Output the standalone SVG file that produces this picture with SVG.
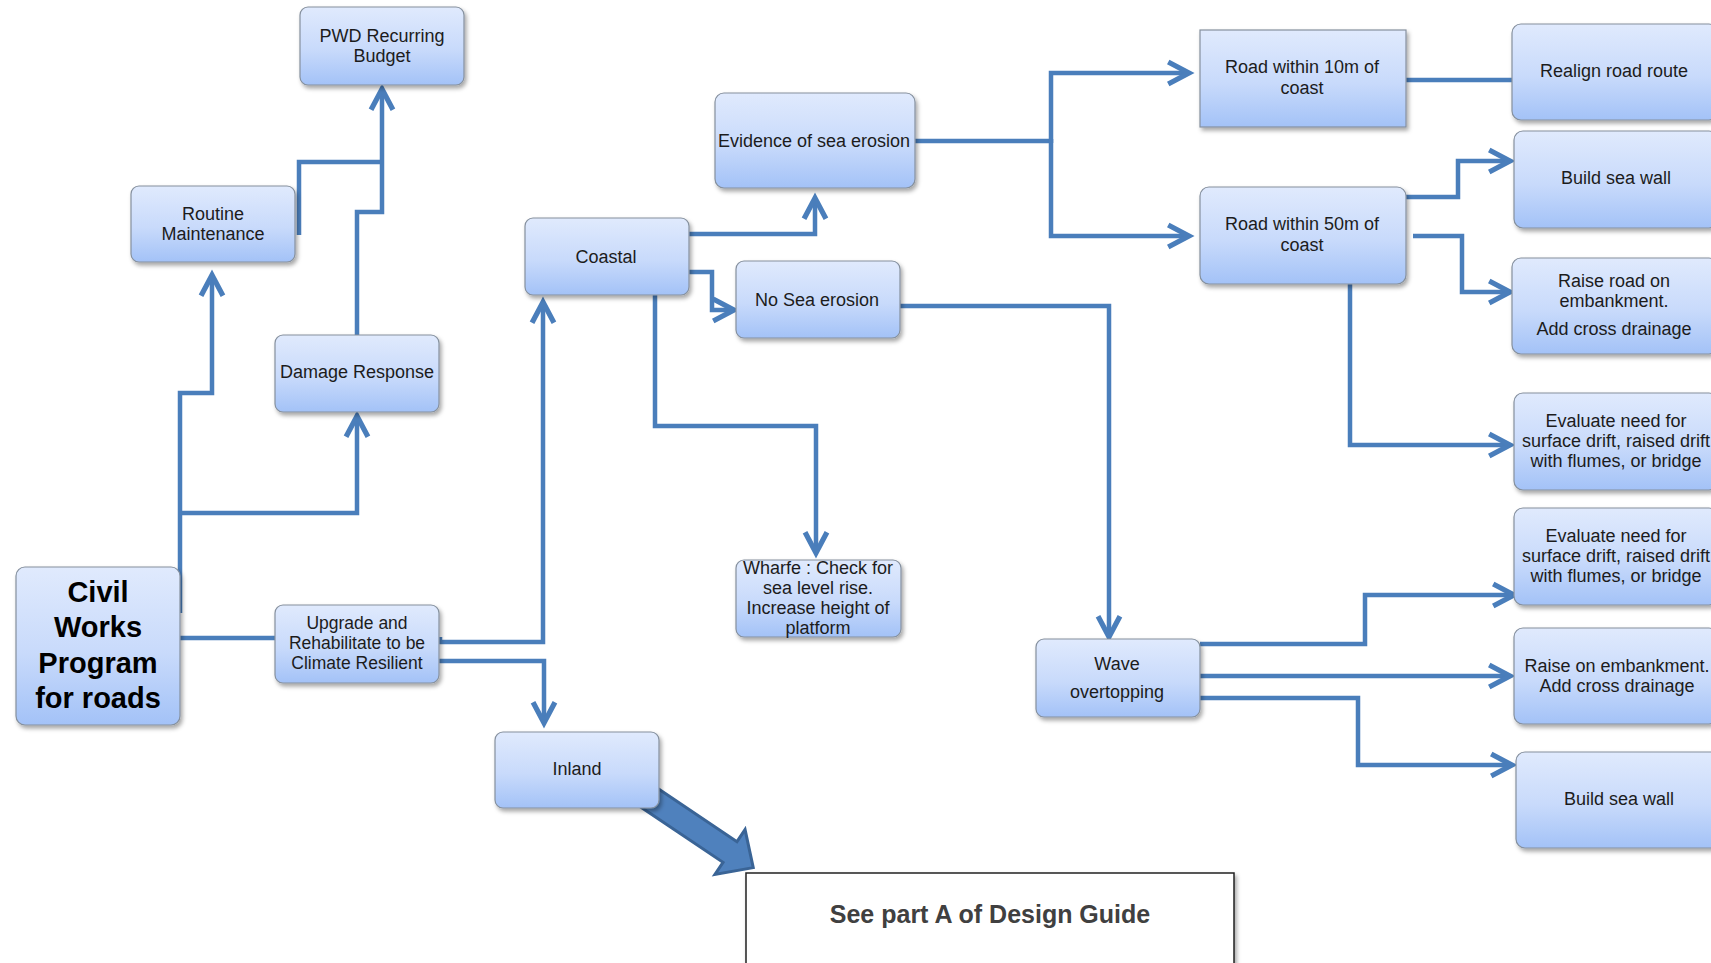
<svg xmlns="http://www.w3.org/2000/svg" width="1711" height="963" viewBox="0 0 1711 963">
  <defs>
    <linearGradient id="boxFill" x1="0" y1="0" x2="0" y2="1">
      <stop offset="0" stop-color="#e0eafd"/>
      <stop offset="0.55" stop-color="#c8dafb"/>
      <stop offset="1" stop-color="#a3c2f7"/>
    </linearGradient>
    <filter id="shadow" x="-10%" y="-10%" width="125%" height="130%">
      <feDropShadow dx="2" dy="3" stdDeviation="2" flood-color="#000" flood-opacity="0.35"/>
    </filter>
    <marker id="arrow" markerUnits="userSpaceOnUse" markerWidth="30" markerHeight="30" viewBox="-22 -13 26 26" refX="0" refY="0" orient="auto" overflow="visible">
      <path d="M-18,-9.5 L0,0 L-18,9.5" fill="none" stroke="#4a7ebb" stroke-width="4.5" stroke-linejoin="miter" stroke-linecap="butt"/>
    </marker>
  </defs>
  <style>
    .box { fill: url(#boxFill); stroke: #85909e; stroke-width: 1.2; filter: url(#shadow); }
    .lbl { font-family: "Liberation Sans", Arial, sans-serif; font-size: 18px; fill: #1c1c1c; text-anchor: middle; }
    .big { font-family: "Liberation Sans", Arial, sans-serif; font-size: 29px; font-weight: bold; fill: #000; text-anchor: middle; }
    .con { fill: none; stroke: #4a7ebb; stroke-width: 4.5; stroke-linejoin: miter; }
    .arr { marker-end: url(#arrow); }
  </style>

  <rect width="1711" height="963" fill="#ffffff"/>

  <!-- connectors (drawn beneath the boxes) -->
  <g id="connectors">
    <path class="con" d="M299,235 V162 H382"/>
    <path class="con arr" d="M357,335 V212 H382 V89"/>
    <path class="con arr" d="M180,613 V393 H212 V275"/>
    <path class="con arr" d="M180,513 H357 V416"/>
    <path class="con" d="M180,638 H276"/>
    <path class="con arr" d="M440,637 V642 H543 V302"/>
    <path class="con arr" d="M439,661 H544 V723"/>
    <path class="con arr" d="M689,234 H815 V198"/>
    <path class="con arr" d="M689,272 H712 V310 H734"/>
    <path class="con arr" d="M655,295 V426 H816 V553"/>
    <path class="con arr" d="M898,300 V306 H1109 V637"/>
    <path class="con" d="M915,141 H1051"/>
    <path class="con arr" d="M1051,143 V73 H1189"/>
    <path class="con arr" d="M1051,139 V236 H1189"/>
    <path class="con" d="M1406,80 H1513"/>
    <path class="con arr" d="M1406,197 H1458 V161 H1510"/>
    <path class="con arr" d="M1413,236 H1462 V292 H1510"/>
    <path class="con arr" d="M1350,284 V445 H1510"/>
    <path class="con arr" d="M1200,644 H1365 V595 H1514"/>
    <path class="con arr" d="M1200,676 H1510"/>
    <path class="con arr" d="M1200,698 H1358 V765 H1512"/>
    <!-- block arrow from Inland to the design guide reference -->
    <g transform="translate(730,852) rotate(33.9)">
      <path d="M-140,-12.5 H0 V-27 L28,0 L0,27 V12.5 H-140 Z" fill="#4f81bd" stroke="#3a6496" stroke-width="3" stroke-linejoin="miter"/>
    </g>
  </g>

  <g id="pwd-budget">
    <rect class="box" x="300" y="7" width="164" height="78" rx="8"/>
    <text class="lbl" x="382" y="42">PWD Recurring</text>
    <text class="lbl" x="382" y="62">Budget</text>
  </g>

  <g id="routine-maintenance">
    <rect class="box" x="131" y="186" width="164" height="76" rx="8"/>
    <text class="lbl" x="213" y="220">Routine</text>
    <text class="lbl" x="213" y="240">Maintenance</text>
  </g>

  <g id="damage-response">
    <rect class="box" x="275" y="335" width="164" height="77" rx="8"/>
    <text class="lbl" x="357" y="378">Damage Response</text>
  </g>

  <g id="civil-works">
    <rect class="box" x="16" y="567" width="164" height="158" rx="9"/>
    <text class="big" x="98" y="602">Civil</text>
    <text class="big" x="98" y="637">Works</text>
    <text class="big" x="98" y="673">Program</text>
    <text class="big" x="98" y="708">for roads</text>
  </g>

  <g id="upgrade">
    <rect class="box" x="275" y="605" width="164" height="78" rx="8"/>
    <text class="lbl" x="357" y="629" style="font-size:17.5px">Upgrade and</text>
    <text class="lbl" x="357" y="649" style="font-size:17.5px">Rehabilitate to be</text>
    <text class="lbl" x="357" y="669" style="font-size:17.5px">Climate Resilient</text>
  </g>

  <g id="inland">
    <rect class="box" x="495" y="732" width="164" height="76" rx="8"/>
    <text class="lbl" x="577" y="775">Inland</text>
  </g>

  <g id="coastal">
    <rect class="box" x="525" y="218" width="164" height="77" rx="8"/>
    <text class="lbl" x="606" y="263">Coastal</text>
  </g>

  <g id="evidence-erosion">
    <rect class="box" x="715" y="93" width="200" height="95" rx="9"/>
    <text class="lbl" x="814" y="147">Evidence of sea erosion</text>
  </g>

  <g id="no-sea-erosion">
    <rect class="box" x="736" y="261" width="164" height="77" rx="8"/>
    <text class="lbl" x="817" y="306">No Sea erosion</text>
  </g>

  <g id="wharfe">
    <rect class="box" x="736" y="560" width="165" height="77" rx="8"/>
    <text class="lbl" x="818" y="574">Wharfe : Check for</text>
    <text class="lbl" x="818" y="594">sea level rise.</text>
    <text class="lbl" x="818" y="614">Increase height of</text>
    <text class="lbl" x="818" y="634">platform</text>
  </g>

  <g id="wave-overtopping">
    <rect class="box" x="1036" y="639" width="164" height="78" rx="8"/>
    <text class="lbl" x="1117" y="670">Wave</text>
    <text class="lbl" x="1117" y="698">overtopping</text>
  </g>

  <g id="road-10m">
    <rect class="box" x="1200" y="30" width="206" height="97"/>
    <text class="lbl" x="1302" y="73">Road within 10m of</text>
    <text class="lbl" x="1302" y="94">coast</text>
  </g>

  <g id="road-50m">
    <rect class="box" x="1200" y="187" width="206" height="97" rx="9"/>
    <text class="lbl" x="1302" y="230">Road within 50m of</text>
    <text class="lbl" x="1302" y="251">coast</text>
  </g>

  <g id="realign-road">
    <rect class="box" x="1512" y="24" width="206" height="96" rx="9"/>
    <text class="lbl" x="1614" y="77">Realign road route</text>
  </g>

  <g id="sea-wall-1">
    <rect class="box" x="1514" y="131" width="204" height="97" rx="9"/>
    <text class="lbl" x="1616" y="184">Build sea wall</text>
  </g>

  <g id="raise-road">
    <rect class="box" x="1512" y="258" width="206" height="96" rx="9"/>
    <text class="lbl" x="1614" y="287">Raise road on</text>
    <text class="lbl" x="1614" y="307">embankment.</text>
    <text class="lbl" x="1614" y="335">Add cross drainage</text>
  </g>

  <g id="evaluate-1">
    <rect class="box" x="1514" y="393" width="204" height="97" rx="9"/>
    <text class="lbl" x="1616" y="427">Evaluate need for</text>
    <text class="lbl" x="1616" y="447">surface drift, raised drift</text>
    <text class="lbl" x="1616" y="467">with flumes, or bridge</text>
  </g>

  <g id="evaluate-2">
    <rect class="box" x="1514" y="508" width="204" height="97" rx="9"/>
    <text class="lbl" x="1616" y="542">Evaluate need for</text>
    <text class="lbl" x="1616" y="562">surface drift, raised drift</text>
    <text class="lbl" x="1616" y="582">with flumes, or bridge</text>
  </g>

  <g id="raise-embankment">
    <rect class="box" x="1514" y="628" width="204" height="96" rx="9"/>
    <text class="lbl" x="1617" y="672">Raise on embankment.</text>
    <text class="lbl" x="1617" y="692">Add cross drainage</text>
  </g>

  <g id="sea-wall-2">
    <rect class="box" x="1516" y="752" width="204" height="96" rx="9"/>
    <text class="lbl" x="1619" y="805">Build sea wall</text>
  </g>

  <g id="design-guide">
    <rect x="746" y="873" width="488" height="110" fill="#ffffff" stroke="#222" stroke-width="1.5" filter="url(#shadow)"/>
    <text x="990" y="923" font-family="'Liberation Sans', Arial, sans-serif" font-size="25" font-weight="bold" fill="#404040" text-anchor="middle">See part A of Design Guide</text>
  </g>
</svg>
